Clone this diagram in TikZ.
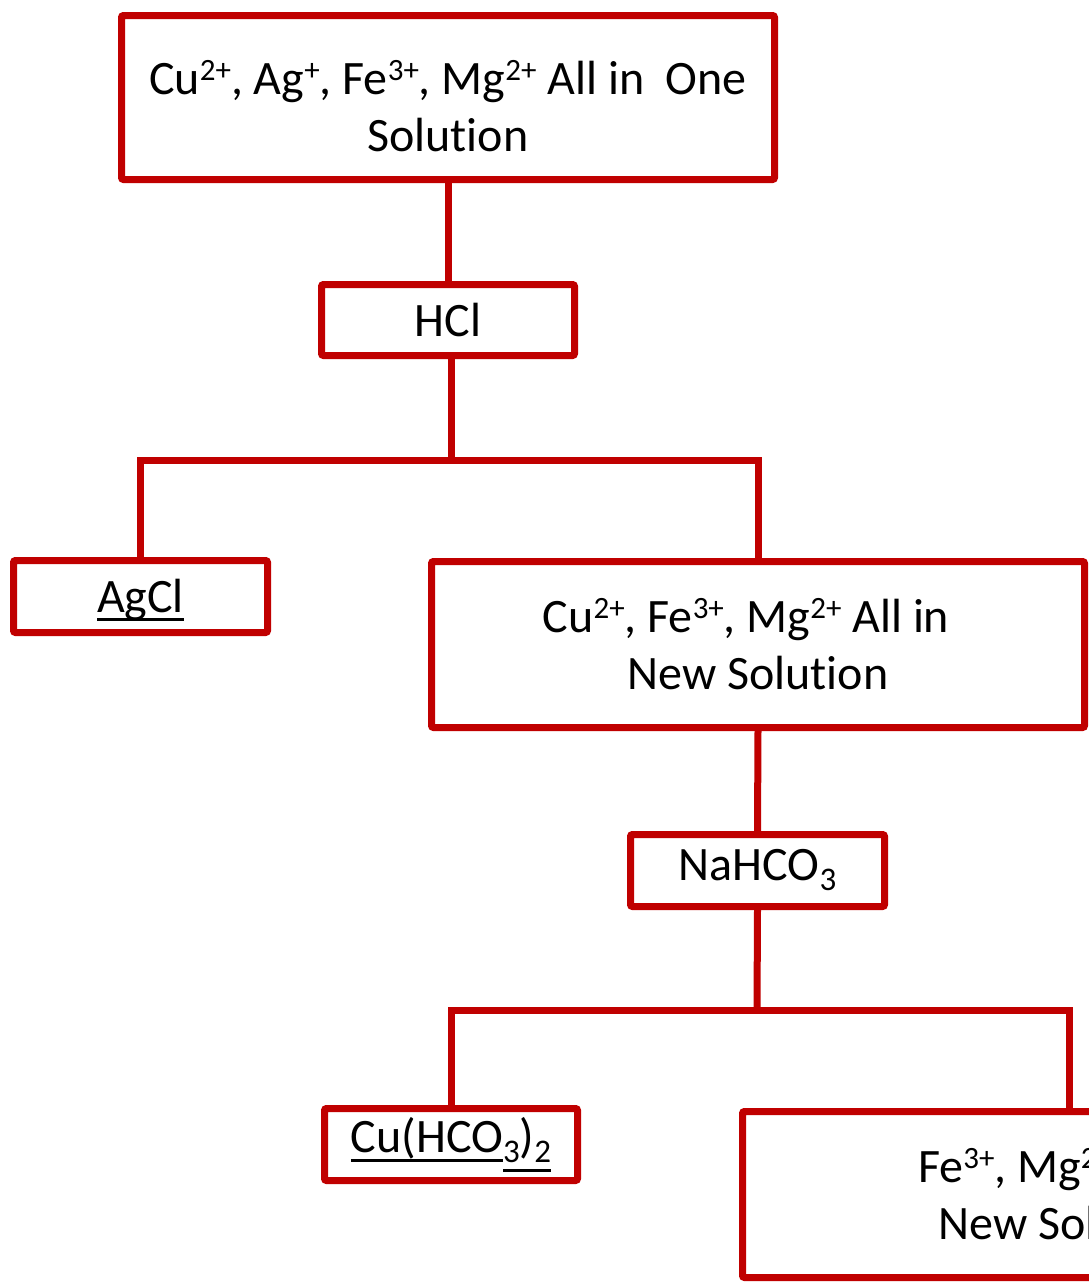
\documentclass[tikz,border=0pt]{standalone}
\usepackage{fontspec}
\setmainfont{Carlito}[RawFeature={-liga;-clig;-dlig}]
\definecolor{boxred}{HTML}{C00000}
% ion charges and formula indices
\newcommand{\ionsup}[1]{\raisebox{14pt}{\fontsize{31}{31}\selectfont #1}}
\newcommand{\idx}[1]{\raisebox{-10pt}{\fontsize{33}{33}\selectfont #1}}
% underline at a given distance below the baseline
\newcommand{\ulat}[2]{\setbox0\hbox{#2}\rlap{\vrule width\wd0 height -#1 depth \dimexpr#1+3pt\relax}\box0}
% plain "ti", no ligature
\newcommand{\solword}{Solut\kern0pt ion}
\begin{document}
\begin{tikzpicture}[x=1pt,y=-1pt,
  every node/.style={font=\fontsize{48}{57}\selectfont},
  frame/.style={draw=boxred, line width=7pt, rounded corners=2pt, inner sep=0pt, align=center},
  wide/.style={frame, minimum width=653pt, minimum height=166pt},
  small/.style={frame, minimum width=254pt, minimum height=72pt},
  link/.style={draw=boxred, line width=7pt, line join=miter}]
\useasboundingbox (0,0) rectangle (1089,1283);
\clip (0,0) rectangle (1089,1283);

\node[wide, minimum height=164pt] (src) at (448,97.5)
  {\rule{0pt}{51pt}Cu\ionsup{2+}, Ag\ionsup{+}, Fe\ionsup{3+}, Mg\ionsup{2+} All in\ \ One\\\solword};
\node[small, minimum width=253pt, minimum height=71pt] (hcl) at (448,320) {HCl};
\node[small] (agcl) at (140.5,596.5) {\rule{0pt}{40pt}\ulat{6pt}{AgCl}};
\node[wide] (rest1) at (758,644.5)
  {Cu\ionsup{2+}, Fe\ionsup{3+}, Mg\ionsup{2+} All in\hspace*{24pt}\\New \solword};
\node[small] (bicarb) at (757.5,870.5) {NaHCO\idx{3}};
\node[small, minimum width=253pt] (cubi) at (451,1144.5)
  {\ulat{6pt}{Cu(HCO}\idx{\ulat{6pt}{3}}\ulat{16pt}{)}\idx{\ulat{6pt}{2}}};
\node[wide] (rest2) at (1069,1194.5)
  {Fe\ionsup{3+}, Mg\ionsup{2+} All in\\New \solword};

\coordinate (j1) at (451,460);
\coordinate (j2) at (757,1010);

\draw[link] (src.south) -- (hcl.north);
\draw[link] (j1 |- hcl.south) -- (j1);
\draw[link] (agcl.north) |- (j1) -| (rest1.north);
\draw[link] (rest1.south) -- (bicarb.north);
\draw[link] (bicarb.south) -- (j2);
\draw[link] (cubi.north) |- (j2) -| (rest2.north);
\end{tikzpicture}
\end{document}
